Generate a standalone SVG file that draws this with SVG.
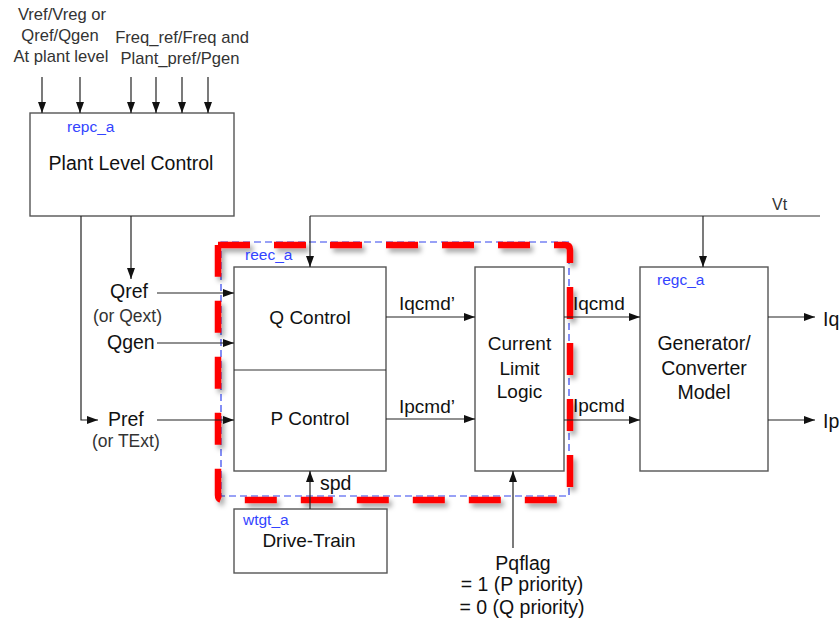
<svg xmlns="http://www.w3.org/2000/svg" width="840" height="623" viewBox="0 0 840 623">
<defs>
<marker id="ah" markerUnits="userSpaceOnUse" markerWidth="12" markerHeight="10" refX="11" refY="4" orient="auto">
<path d="M0,0 L11,4 L0,8 Z" fill="#111"/>
</marker>
<filter id="sh" x="-10%" y="-10%" width="120%" height="120%">
<feDropShadow dx="3" dy="4" stdDeviation="2.5" flood-color="#000" flood-opacity="0.35"/>
</filter>
<style>
.box{fill:#fff;stroke:#555;stroke-width:1.4}
.ln{fill:none;stroke:#333;stroke-width:1.2}
.ar{fill:none;stroke:#222;stroke-width:1.2;marker-end:url(#ah)}
.t{font-family:"Liberation Sans",Arial,sans-serif;font-size:19.5px;fill:#111}
.tm{font-family:"Liberation Sans",Arial,sans-serif;font-size:19px;fill:#111}
.s{font-family:"Liberation Sans",Arial,sans-serif;font-size:17.5px;fill:#333}
.top{font-family:"Liberation Sans",Arial,sans-serif;font-size:16.6px;fill:#333;text-anchor:middle}
.b{font-family:"Liberation Sans",Arial,sans-serif;font-size:15.5px;fill:#3344ff}
.c{text-anchor:middle}
</style>
</defs>
<rect width="840" height="623" fill="#fff"/>

<g id="inputs-text">
<text class="top" x="62" y="20">Vref/Vreg or</text>
<text class="top" x="60" y="41">Qref/Qgen</text>
<text class="top" x="61" y="62">At plant level</text>
<text class="top" x="182" y="43">Freq_ref/Freq and</text>
<text class="top" x="180" y="64">Plant_pref/Pgen</text>
</g>

<g id="plant-level-control">
<rect class="box" x="30" y="113" width="204" height="103"/>
<text class="b" x="67" y="132">repc_a</text>
<text class="t c" x="131" y="170">Plant Level Control</text>
</g>

<g id="reec-frame">
<rect x="221" y="242" width="348" height="254" fill="none" stroke="#3344ee" stroke-width="1.2" stroke-dasharray="7 4"/>
<path d="M218,245 H565 Q570,245 570,250 V495 Q570,500 565,500 H223 Q218,500 218,495 V245" fill="none" stroke="#ff0000" stroke-width="6.5" stroke-dasharray="32 24" filter="url(#sh)"/>
<text class="b" x="245" y="260">reec_a</text>
</g>

<g id="qp-control">
<rect class="box" x="234" y="267" width="152" height="204"/>
<line class="ln" x1="234" y1="370" x2="386" y2="370" stroke="#333"/>
<text class="tm c" x="310" y="324">Q Control</text>
<text class="tm c" x="310" y="425">P Control</text>
</g>

<g id="current-limit-logic">
<rect class="box" x="475" y="267" width="89" height="204"/>
<text class="tm c" x="519.5" y="350">Current</text>
<text class="tm c" x="519.5" y="375">Limit</text>
<text class="tm c" x="519.5" y="398">Logic</text>
</g>

<g id="generator-converter">
<rect class="box" x="640" y="267" width="128" height="204"/>
<text class="b" x="657" y="285">regc_a</text>
<text class="t c" x="704" y="350">Generator/</text>
<text class="t c" x="704" y="375">Converter</text>
<text class="t c" x="704" y="399">Model</text>
</g>

<g id="drive-train">
<rect class="box" x="234" y="509" width="153" height="64"/>
<text class="b" x="243" y="525">wtgt_a</text>
<text class="tm c" x="309" y="547">Drive-Train</text>
</g>

<g id="labels">
<text class="t" x="110" y="298">Qref</text>
<text class="s" x="93" y="322">(or Qext)</text>
<text class="t" x="107" y="349">Qgen</text>
<text class="t" x="108" y="426">Pref</text>
<text class="s" x="92" y="447">(or TExt)</text>
<text class="tm" x="399" y="310">Iqcmd’</text>
<text class="tm" x="399" y="413">Ipcmd’</text>
<text class="tm" x="573" y="310">Iqcmd</text>
<text class="tm" x="573" y="412">Ipcmd</text>
<text class="t" x="823" y="326">Iq</text>
<text class="t" x="823" y="428">Ip</text>
<text class="s" x="772" y="210" style="font-size:16px">Vt</text>
<text class="t" x="320" y="490">spd</text>
<text class="t c" x="523" y="570">Pqflag</text>
<text class="t c" x="522" y="591">= 1 (P priority)</text>
<text class="t c" x="522" y="614">= 0 (Q priority)</text>
</g>

<g id="connectors">
<line class="ar" x1="42" y1="77" x2="42" y2="113"/>
<line class="ar" x1="80" y1="77" x2="80" y2="113"/>
<line class="ar" x1="131" y1="77" x2="131" y2="113"/>
<line class="ar" x1="156" y1="77" x2="156" y2="113"/>
<line class="ar" x1="182" y1="77" x2="182" y2="113"/>
<line class="ar" x1="208" y1="77" x2="208" y2="113"/>
<line class="ar" x1="131" y1="216" x2="131" y2="279"/>
<path class="ar" d="M81,216 V420 H98"/>
<line class="ar" x1="157" y1="293" x2="234" y2="293"/>
<line class="ar" x1="157" y1="343" x2="234" y2="343"/>
<line class="ar" x1="157" y1="420" x2="234" y2="420"/>
<line class="ln" x1="310" y1="216" x2="820" y2="216"/>
<line class="ar" x1="310" y1="216" x2="310" y2="267"/>
<line class="ar" x1="703" y1="216" x2="703" y2="267"/>
<line class="ar" x1="386" y1="317" x2="475" y2="317"/>
<line class="ar" x1="386" y1="419" x2="475" y2="419"/>
<line class="ar" x1="564" y1="317" x2="640" y2="317"/>
<line class="ar" x1="564" y1="420" x2="640" y2="420"/>
<line class="ar" x1="768" y1="317" x2="815" y2="317"/>
<line class="ar" x1="768" y1="420" x2="815" y2="420"/>
<line class="ar" x1="310" y1="509" x2="310" y2="471"/>
<line class="ar" x1="513" y1="548" x2="513" y2="471"/>
</g>
</svg>
